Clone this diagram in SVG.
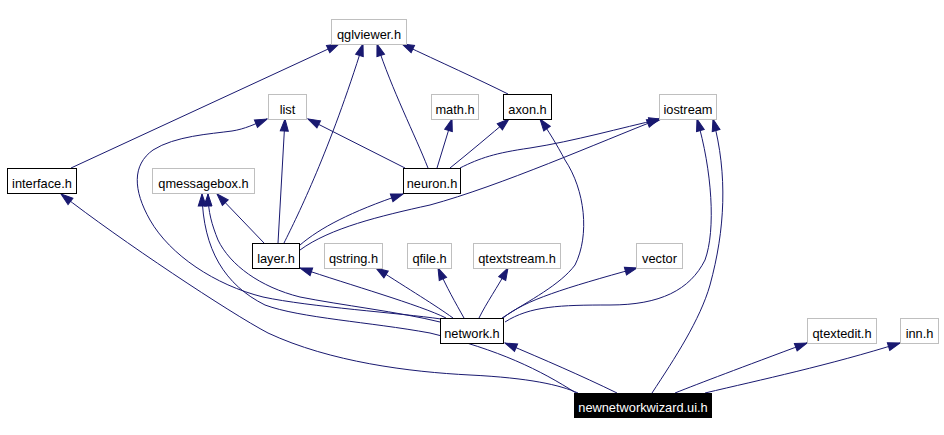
<svg xmlns="http://www.w3.org/2000/svg" width="944" height="435" viewBox="0 0 944 435">
<style>
.n rect{fill:#fff;stroke:#bfbfbf;stroke-width:1}
.d rect{fill:#fff;stroke:#000;stroke-width:1}
.b rect{fill:#000;stroke:#000;stroke-width:1}
text{font-family:"Liberation Sans",Arial,sans-serif;font-size:12.8px;text-anchor:middle;fill:#000}
.b text{fill:#fff}
.e path{fill:none;stroke:#191970;stroke-width:1;marker-end:url(#a)}
</style>
<defs>
<marker id="a" markerWidth="13" markerHeight="9" refX="12" refY="4" orient="auto" markerUnits="userSpaceOnUse" overflow="visible">
<path d="M0,0 L12,4 L0,8 z" fill="#191970" stroke="#191970" stroke-width="1"/>
</marker>
</defs>
<rect width="944" height="435" fill="#fff"/>
<g class="e" id="edges">
<path d="M71,168 L339,44"/>
<path d="M508,94 C480,80 440,62 402,44"/>
<path d="M428,168 C415,135 392,90 377,44"/>
<path d="M284,243 C298,215 330,150 363,44"/>
<path d="M405,168 L308,119"/>
<path d="M437,168 L452,119"/>
<path d="M450,168 C470,152 490,135 509,119"/>
<path d="M460,168 C480,158 495,153 530,148 C575,141 620,128 661,119"/>
<path d="M300,250 C330,228 380,216 430,205 C500,186 600,142 659,119"/>
<path d="M300,245 C320,228 350,212 403,194"/>
<path d="M278,243 L285,119"/>
<path d="M264,243 L217,194"/>
<path d="M446,318 C420,305 350,285 300,268"/>
<path d="M453,318 C435,305 410,290 376,268"/>
<path d="M464,318 C455,302 447,288 438,268"/>
<path d="M479,318 C487,302 497,288 508,268"/>
<path d="M503,318 C525,300 565,288 637,268"/>
<path d="M505,322 C530,306 560,305 610,305 C660,305 690,290 705,260 C716,230 712,170 697,119"/>
<path d="M502,318 C530,300 560,285 575,265 C590,235 585,190 565,160 C557,145 548,130 540,119"/>
<path d="M441,319 C400,313 310,307 263,297 C215,285 170,255 150,220 C133,190 132,165 153,150 C175,136 210,134 232,131 C245,129 255,124 267,119"/>
<path d="M440,322 C400,312 340,305 300,297 C260,287 230,265 218,240 C212,225 208,212 208,194"/>
<path d="M576,393 C540,370 500,350 430,333 C370,322 300,318 265,305 C225,285 203,250 202,194"/>
<path d="M578,393 C560,385 530,378 470,375 C410,372 330,362 268,333 C230,313 120,240 61,194"/>
<path d="M617,393 C580,375 545,360 505,343"/>
<path d="M652,393 C675,358 700,320 710,285 C725,230 728,175 713,119"/>
<path d="M675,393 C700,383 740,368 807,343"/>
<path d="M705,393 C760,380 830,365 900,343"/>
</g>
<g id="qglviewer" class="n"><rect x="331.5" y="19.5" width="75" height="25"/><text x="369" y="38.5">qglviewer.h</text></g>
<g id="list" class="n"><rect x="268.5" y="94.5" width="38" height="25"/><text x="287.5" y="113.5">list</text></g>
<g id="math" class="n"><rect x="431.5" y="94.5" width="47" height="25"/><text x="455" y="113.5">math.h</text></g>
<g id="axon" class="d"><rect x="503.5" y="94.5" width="48" height="25"/><text x="527.5" y="113.5">axon.h</text></g>
<g id="iostream" class="n"><rect x="659.5" y="94.5" width="57" height="25"/><text x="688" y="113.5">iostream</text></g>
<g id="interface" class="d"><rect x="7.5" y="168.5" width="69" height="25"/><text x="42" y="187.5">interface.h</text></g>
<g id="qmessagebox" class="n"><rect x="152.5" y="168.5" width="102" height="25"/><text x="203.5" y="187.5">qmessagebox.h</text></g>
<g id="neuron" class="d"><rect x="403.5" y="168.5" width="57" height="25"/><text x="432" y="187.5">neuron.h</text></g>
<g id="layer" class="d"><rect x="252.5" y="243.5" width="47" height="25"/><text x="276" y="262.5">layer.h</text></g>
<g id="qstring" class="n"><rect x="324.5" y="243.5" width="58" height="25"/><text x="353.5" y="262.5">qstring.h</text></g>
<g id="qfile" class="n"><rect x="407.5" y="243.5" width="44" height="25"/><text x="429.5" y="262.5">qfile.h</text></g>
<g id="qtextstream" class="n"><rect x="473.5" y="243.5" width="87" height="25"/><text x="517" y="262.5">qtextstream.h</text></g>
<g id="vector" class="n"><rect x="636.5" y="243.5" width="46" height="25"/><text x="659.5" y="262.5">vector</text></g>
<g id="network" class="d"><rect x="440.5" y="318.5" width="63" height="25"/><text x="472" y="337.5">network.h</text></g>
<g id="qtextedit" class="n"><rect x="807.5" y="318.5" width="69" height="25"/><text x="842" y="337.5">qtextedit.h</text></g>
<g id="inn" class="n"><rect x="900.5" y="318.5" width="38" height="25"/><text x="919.5" y="337.5">inn.h</text></g>
<g id="newnetworkwizard" class="b"><rect x="574.5" y="393.5" width="137" height="24"/><text x="643" y="412">newnetworkwizard.ui.h</text></g>
</svg>
